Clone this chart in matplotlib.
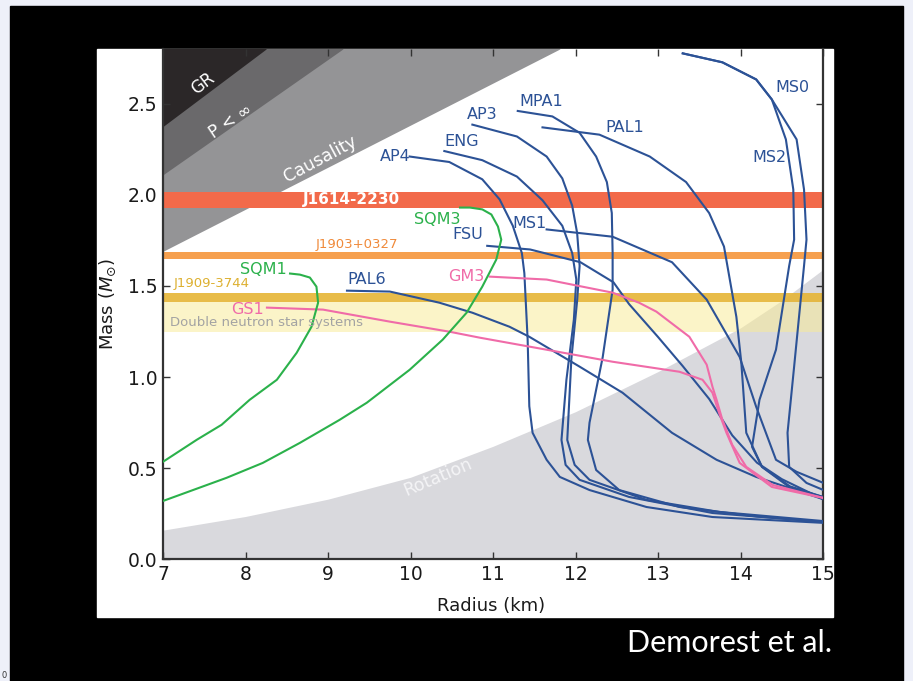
import numpy as np
import matplotlib
matplotlib.use('Agg')
import matplotlib.pyplot as plt
from matplotlib.patches import Rectangle

plt.rcParams['font.family'] = ['DejaVu Sans']
plt.rcParams['mathtext.fontset'] = 'dejavusans'

# mass (Msun) vs radius (km)
ap4_r = [9.99, 10.47, 10.87, 11.08, 11.24, 11.35, 11.38, 11.42, 11.44, 11.48, 11.65, 11.81, 12.17, 12.86, 13.66, 15.0]
ap4_m = [2.21, 2.18, 2.085, 1.975, 1.83, 1.68, 1.57, 1.205, 0.84, 0.694, 0.546, 0.452, 0.38, 0.287, 0.232, 0.20]
eng_r = [10.41, 10.87, 11.29, 11.60, 11.84, 11.96, 12.01, 11.98, 11.89, 11.83, 11.88, 12.05, 12.65, 13.66, 15.0]
eng_m = [2.24, 2.19, 2.10, 1.97, 1.83, 1.68, 1.535, 1.315, 0.985, 0.655, 0.518, 0.436, 0.342, 0.254, 0.205]
ap3_r = [10.75, 11.29, 11.65, 11.84, 11.96, 12.02, 12.05, 12.02, 11.95, 11.90, 11.99, 12.17, 12.86, 13.74, 15.0]
ap3_m = [2.385, 2.32, 2.21, 2.09, 1.94, 1.79, 1.61, 1.42, 1.10, 0.655, 0.518, 0.436, 0.326, 0.26, 0.21]
mpa1_r = [11.30, 11.72, 12.05, 12.25, 12.38, 12.44, 12.45, 12.45, 12.33, 12.17, 12.15, 12.25, 12.53, 13.26, 14.2, 15.0]
mpa1_m = [2.46, 2.43, 2.34, 2.21, 2.07, 1.90, 1.68, 1.48, 1.11, 0.75, 0.655, 0.49, 0.38, 0.287, 0.235, 0.205]
pal1_r = [11.60, 12.29, 12.90, 13.34, 13.62, 13.80, 13.95, 14.01, 14.07, 14.26, 14.6, 15.0]
pal1_m = [2.37, 2.33, 2.21, 2.07, 1.90, 1.716, 1.33, 1.078, 0.694, 0.508, 0.40, 0.342]
ms1_r = [11.65, 12.45, 13.17, 13.59, 13.99, 14.19, 14.43, 14.68, 15.0]
ms1_m = [1.81, 1.77, 1.63, 1.425, 1.11, 0.837, 0.546, 0.48, 0.42]
fsu_r = [10.93, 11.45, 12.06, 12.46, 12.65, 13.0, 13.3, 13.62, 13.9, 14.2, 14.5, 15.0]
fsu_m = [1.72, 1.70, 1.63, 1.52, 1.40, 1.22, 1.06, 0.88, 0.68, 0.53, 0.44, 0.33]
pal6_r = [9.23, 9.75, 10.35, 10.75, 11.20, 11.44, 12.05, 12.57, 13.17, 13.71, 14.19, 15.0]
pal6_m = [1.474, 1.469, 1.408, 1.353, 1.276, 1.221, 1.057, 0.914, 0.694, 0.546, 0.452, 0.33]
ms0_r = [13.30, 13.78, 14.19, 14.38, 14.68, 14.77, 14.80, 14.77, 14.65, 14.57, 14.59, 14.80, 15.0]
ms0_m = [2.776, 2.727, 2.633, 2.523, 2.304, 2.029, 1.754, 1.61, 1.057, 0.694, 0.507, 0.419, 0.381]
ms2_r = [13.30, 13.78, 14.19, 14.38, 14.55, 14.64, 14.65, 14.59, 14.43, 14.23, 14.14, 14.26, 14.59, 15.0]
ms2_m = [2.776, 2.727, 2.633, 2.523, 2.304, 2.029, 1.754, 1.61, 1.15, 0.875, 0.617, 0.507, 0.397, 0.342]
gs1_r = [8.26, 8.94, 9.75, 10.47, 10.84, 11.65, 12.45, 13.26, 13.54, 13.66, 13.74, 13.83, 13.99, 14.38, 15.0]
gs1_m = [1.381, 1.370, 1.304, 1.249, 1.216, 1.150, 1.084, 1.029, 0.985, 0.914, 0.804, 0.694, 0.529, 0.397, 0.337]
gm3_r = [10.96, 11.65, 12.45, 12.77, 12.98, 13.38, 13.59, 13.66, 13.71, 13.78, 13.90, 14.07, 14.39, 15.0]
gm3_m = [1.551, 1.535, 1.463, 1.408, 1.359, 1.221, 1.068, 0.947, 0.875, 0.766, 0.628, 0.507, 0.408, 0.337]
sqm1_r = [7.0, 7.41, 7.71, 8.05, 8.38, 8.62, 8.80, 8.88, 8.86, 8.78, 8.66, 8.54]
sqm1_m = [0.535, 0.656, 0.738, 0.875, 0.985, 1.133, 1.276, 1.408, 1.496, 1.546, 1.562, 1.568]
sqm3_r = [7.0, 7.77, 8.21, 8.66, 9.14, 9.47, 9.99, 10.39, 10.68, 10.87, 11.04, 11.10, 11.06, 10.98, 10.87, 10.72, 10.60]
sqm3_m = [0.32, 0.447, 0.529, 0.639, 0.765, 0.859, 1.04, 1.205, 1.353, 1.496, 1.645, 1.754, 1.826, 1.892, 1.92, 1.93, 1.93]

# excluded regions
gr_r = [7.0, 8.25]
gr_m = [2.375, 2.80]
pinf_r = [7.0, 9.18]
pinf_m = [2.11, 2.80]
caus_r = [7.0, 11.81]
caus_m = [1.69, 2.80]
rot_r = [7, 8, 9, 10, 11, 12, 13, 13.5, 14, 14.5, 15]
rot_m = [0.16, 0.235, 0.33, 0.45, 0.62, 0.81, 1.03, 1.15, 1.27, 1.42, 1.59]

# pulsar mass bands (lo, hi)
j1614 = (1.93, 2.013)
j1903 = (1.645, 1.688)
j1909 = (1.414, 1.463)
dns = (1.249, 1.414)

blue = '#2c5296'
green = '#2bb14b'
pink = '#f06ba8'

curves = [(ap4_r, ap4_m, blue), (eng_r, eng_m, blue), (ap3_r, ap3_m, blue),
          (mpa1_r, mpa1_m, blue), (pal1_r, pal1_m, blue), (ms1_r, ms1_m, blue),
          (fsu_r, fsu_m, blue), (pal6_r, pal6_m, blue), (ms0_r, ms0_m, blue),
          (ms2_r, ms2_m, blue), (gs1_r, gs1_m, pink), (gm3_r, gm3_m, pink),
          (sqm1_r, sqm1_m, green), (sqm3_r, sqm3_m, green)]

labels = ['AP4', 'ENG', 'AP3', 'MPA1', 'PAL1', 'MS1', 'FSU', 'PAL6', 'MS0', 'MS2',
          'GS1', 'GM3', 'SQM1', 'SQM3']
label_r = [9.81, 10.62, 10.87, 11.59, 12.6, 11.44, 10.69, 9.47, 14.63, 14.35,
           8.03, 10.68, 8.22, 10.32]
label_m = [2.21, 2.29, 2.44, 2.51, 2.37, 1.84, 1.78, 1.535, 2.59, 2.205,
           1.37, 1.55, 1.59, 1.865]
label_c = [blue] * 10 + [pink, pink, green, green]

W, H = 913, 681
fig = plt.figure(figsize=(W / 100, H / 100), dpi=100, facecolor='#eef0f9')
fig.patches.append(Rectangle((10 / W, 0), (903 - 10) / W, (681 - 6) / H,
                             transform=fig.transFigure, color='black', zorder=-3))
fig.patches.append(Rectangle((97 / W, 1 - 617 / H), (833 - 97) / W, (617 - 49) / H,
                             transform=fig.transFigure, color='white', zorder=-2))

ax = fig.add_axes([163 / W, 1 - 559.3 / H, (823 - 163) / W, (559.3 - 49) / H])
ax.set_facecolor('white')
ax.set_xlim(7, 15)
ax.set_ylim(0, 2.8)

ax.fill_between(rot_r, 0, rot_m, color='#d9d9dd', lw=0, zorder=1)
ax.fill_between(caus_r, caus_m, 2.9, color='#949496', lw=0, zorder=1)
ax.fill_between(pinf_r, pinf_m, 2.9, color='#6a696b', lw=0, zorder=1)
ax.fill_between(gr_r, gr_m, 2.9, color='#2b2728', lw=0, zorder=1)

ax.axhspan(*dns, color='#f9eb93', alpha=0.5, lw=0, zorder=2)
ax.axhspan(*j1909, color='#e6b535', alpha=0.9, lw=0, zorder=2)
ax.axhspan(*j1903, color='#f6a04f', lw=0, zorder=2)
ax.axhspan(*j1614, color='#f26a4a', lw=0, zorder=2)

for r, m, c in curves:
    ax.plot(r, m, color=c, lw=1.5, zorder=3, solid_joinstyle='round')

for name, r, m, c in zip(labels, label_r, label_m, label_c):
    ax.text(r, m, name, color=c, fontsize=11.5, ha='center', va='center', zorder=4)

ax.text(9.29, 1.974, 'J1614-2230', color='white', fontsize=11, fontweight='bold',
        ha='center', va='center', zorder=4)
ax.text(9.35, 1.727, 'J1903+0327', color='#f08a3a', fontsize=9.5, ha='center', va='center', zorder=4)
ax.text(7.59, 1.513, 'J1909-3744', color='#ddb030', fontsize=9.5, ha='center', va='center', zorder=4)
ax.text(8.25, 1.30, 'Double neutron star systems', color='#a3a3a3', fontsize=9.5,
        ha='center', va='center', zorder=4)

ax.text(7.48, 2.61, 'GR', color='white', fontsize=12, rotation=37, ha='center', va='center', zorder=4)
ax.text(7.81, 2.40, r'P < $\infty$', color='white', fontsize=12, rotation=34, ha='center', va='center', zorder=4)
ax.text(8.90, 2.195, 'Causality', color='white', fontsize=12.5, rotation=28, ha='center', va='center', zorder=4)
ax.text(10.33, 0.452, 'Rotation', color='#f4f4f6', fontsize=12.5, rotation=23, ha='center', va='center', zorder=4)

ax.set_xticks(range(7, 16))
ax.set_yticks([0.0, 0.5, 1.0, 1.5, 2.0, 2.5])
ax.set_yticklabels(['0.0', '0.5', '1.0', '1.5', '2.0', '2.5'])
ax.tick_params(direction='in', length=5, width=1, color='#333333', labelsize=13.5,
               labelcolor='#1a1a1a', top=True, right=True, pad=4)
for s in ['left', 'bottom', 'right']:
    ax.spines[s].set_color('#333333')
    ax.spines[s].set_linewidth(1.6)
ax.spines['top'].set_visible(False)

ax.set_xlabel('Radius (km)', fontsize=13, color='#1a1a1a')
ax.set_ylabel(r'Mass ($M_{\odot}$)', fontsize=13, color='#1a1a1a')
ax.xaxis.set_label_coords(0.497, -0.0915)
ax.xaxis.label.set_va('center')
ax.yaxis.set_label_coords(-0.083, 0.5)
ax.yaxis.label.set_va('center')

fig.text(730 / W, 1 - 643 / H, 'Demorest et al.', color='white', fontsize=22,
         family='Lato', ha='center', va='center')
fig.text(4 / W, 1 - 675 / H, '0', color='#333333', fontsize=6, ha='center', va='center')

fig.savefig('out.png', dpi=100, facecolor=fig.get_facecolor())
